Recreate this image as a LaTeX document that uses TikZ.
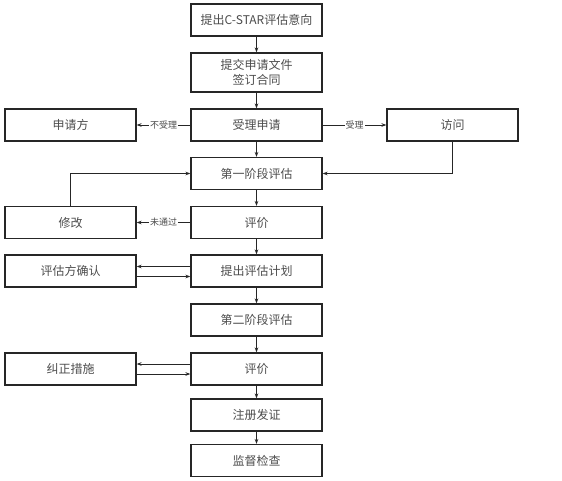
\documentclass[tikz,border=0pt]{standalone}
\usepackage{fontspec}
\setmainfont{Noto Sans CJK SC}
\usetikzlibrary{arrows.meta}
\begin{document}
\begin{tikzpicture}[x=1pt,y=1pt,
  box/.style={draw=black!85,line width=1.2pt,minimum width=131pt,minimum height=32pt,inner sep=0pt,
    font=\fontsize{12}{15}\selectfont,text=black!70},
  conn/.style={draw=black!85,line width=0.9pt,-{Stealth[length=5pt,width=3.6pt]}},
  lab/.style={fill=white,inner sep=1pt,font=\fontsize{9}{10}\selectfont,text=black!70}]
\useasboundingbox (0,0) rectangle (562,-480);
\node[box] (n1) at (256.5,-20) {提出C-STAR评估意向};
\node[box,minimum height=39pt,align=center] (n2) at (256.5,-72.5) {提交申请文件\\签订合同};
\node[box] (n3) at (256.5,-125) {受理申请};
\node[box] (sqf) at (70.5,-125) {申请方};
\node[box] (fw) at (452.5,-125) {访问};
\node[box] (n4) at (256.5,-173.5) {第一阶段评估};
\node[box] (xg) at (70.5,-222.5) {修改};
\node[box] (pj1) at (256.5,-222.5) {评价};
\node[box] (qr) at (70.5,-271) {评估方确认};
\node[box] (tc) at (256.5,-271) {提出评估计划};
\node[box] (n5) at (256.5,-320) {第二阶段评估};
\node[box] (jz) at (70.5,-369) {纠正措施};
\node[box] (pj2) at (256.5,-369) {评价};
\node[box] (zc) at (256.5,-415) {注册发证};
\node[box] (jd) at (256.5,-460.5) {监督检查};
\foreach \a/\b in {n1/n2,n2/n3,n3/n4,n4/pj1,pj1/tc,tc/n5,n5/pj2,pj2/zc,zc/jd}
  \draw[conn] (\a) -- (\b);
\draw[conn] (n3) -- node[lab] {不受理} (sqf);
\draw[conn] (n3) -- node[lab] {受理} (fw);
\draw[conn] (pj1) -- node[lab] {未通过} (xg);
\draw[conn] (fw.south) |- (n4.east);
\draw[conn] (xg.north) |- (n4.west);
\draw[conn] ([yshift=4.5pt]tc.west) -- ([yshift=4.5pt]qr.east);
\draw[conn] ([yshift=-5.5pt]qr.east) -- ([yshift=-5.5pt]tc.west);
\draw[conn] ([yshift=5pt]pj2.west) -- ([yshift=5pt]jz.east);
\draw[conn] ([yshift=-5pt]jz.east) -- ([yshift=-5pt]pj2.west);
\end{tikzpicture}
\end{document}
